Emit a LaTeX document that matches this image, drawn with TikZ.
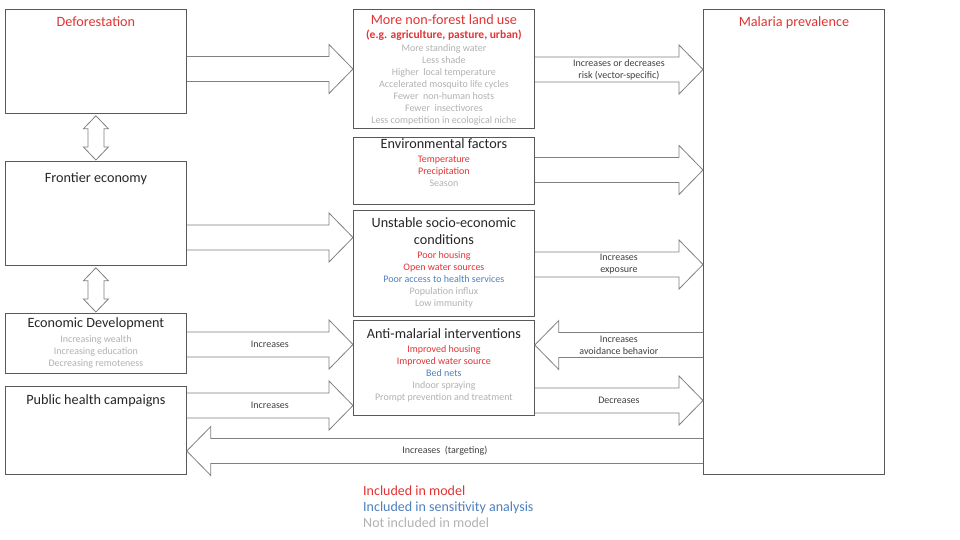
\documentclass[tikz,border=0pt]{standalone}
\usepackage{fontspec}
\setmainfont{Carlito}
\usepackage{tikz}
\usetikzlibrary{positioning, calc}
\definecolor{inred}{RGB}{226,52,52}
\definecolor{inblue}{RGB}{79,129,189}
\definecolor{outgray}{RGB}{178,178,178}
\definecolor{titlegray}{RGB}{38,38,38}
\definecolor{labelgray}{RGB}{64,64,64}
\definecolor{boxline}{RGB}{89,89,89}
\definecolor{arrowline}{RGB}{128,128,128}
\tikzstyle{box} = [rectangle, draw=boxline, line width=0.8pt, inner sep=0pt,
    minimum width=181pt, anchor=north west]
\tikzstyle{boxtext} = [inner sep=0pt, align=center, text=outgray,
    font=\fontsize{10}{12}\selectfont]
\tikzstyle{fatline} = [draw=arrowline, line width=0.8pt, line join=miter]
\tikzstyle{arrowlabel} = [inner sep=0pt, align=center, text=labelgray,
    font=\fontsize{10}{12}\selectfont]
\tikzstyle{legend} = [inner sep=0pt, anchor=base west, font=\fontsize{14}{16}\selectfont]
\newcommand\ttl[1]{{\fontsize{14.2}{16}\selectfont\color{titlegray}#1}}
\newcommand\fatarrow[3][]{%
  \draw[fatline] let \p1=(#2), \p2=(#3), \n1={ifthenelse(\x2>\x1,24,-24)} in
    (\x1,{\y1+12.5pt}) -- ({\x2-\n1},{\y1+12.5pt}) -- ({\x2-\n1},{\y1+24.5pt}) -- (\x2,\y1)
    -- ({\x2-\n1},{\y1-24.5pt}) -- ({\x2-\n1},{\y1-12.5pt}) -- (\x1,{\y1-12.5pt});
  \ifx\relax#1\relax\else
    \path let \p1=(#2), \p2=(#3) in node[arrowlabel] at ({(\x1+\x2)/2},\y1) {#1};
  \fi}
\newcommand\fatboth[2]{%
  \draw[fatline] let \p1=(#1), \p2=(#2) in
    (\x1,\y1) -- ({\x1+12.5pt},{\y1-13pt}) -- ({\x1+8pt},{\y1-13pt}) -- ({\x1+8pt},{\y2+13pt})
    -- ({\x1+12.5pt},{\y2+13pt}) -- (\x1,\y2) -- ({\x1-12.5pt},{\y2+13pt}) -- ({\x1-8pt},{\y2+13pt})
    -- ({\x1-8pt},{\y1-13pt}) -- ({\x1-12.5pt},{\y1-13pt}) -- cycle;}

\begin{document}
\begin{tikzpicture}[x=1pt, y=-1pt]
		\path[use as bounding box, fill=white] (0,0) rectangle (960,539);
		% boxes
		\node [box, minimum height=104pt] (defor) at (5,9) {};
		\node [box, minimum height=104pt] (frontier) at (5,161) {};
		\node [box, minimum height=60pt] (econ) at (5,313) {};
		\node [box, minimum height=88pt] (public) at (5,386) {};
		\node [box, minimum height=119pt] (landuse) at (353,9) {};
		\node [box, minimum height=67pt] (env) at (353,137) {};
		\node [box, minimum height=106pt] (unstable) at (353,210) {};
		\node [box, minimum height=95pt] (anti) at (353,320) {};
		\node [box, minimum height=465pt] (malaria) at (703,9) {};
		
		% box texts
		\node [boxtext, below=7pt of defor.north] (defor-txt) {\ttl{\color{inred}Deforestation}};
		\node [boxtext, below=11pt of frontier.north] (frontier-txt) {\ttl{Frontier economy}};
		\node [boxtext, below=4pt of econ.north] (econ-txt) {\ttl{Economic Development}\\[3pt]
			Increasing wealth\\ Increasing education\\ Decreasing remoteness};
		\node [boxtext, below=8pt of public.north] (public-txt) {\ttl{Public health campaigns}};
		\node [boxtext, below=5pt of landuse.north] (landuse-txt) {\ttl{\color{inred}More non-forest land use}\\[2pt]
			{\fontsize{11.5}{12}\selectfont\bfseries\color{inred}(e.g. agriculture, pasture, urban)}\\[1pt]
			More standing water\\ Less shade\\ Higher~ local temperature\\ Accelerated mosquito life cycles\\
			Fewer~ non-human hosts\\ Fewer~ insectivores\\ Less competition in ecological niche};
		\node [boxtext, below=1pt of env.north] (env-txt) {\ttl{Environmental factors}\\[2pt]
			\textcolor{inred}{Temperature}\\ \textcolor{inred}{Precipitation}\\ Season};
		\node [boxtext, below=7pt of unstable.north] (unstable-txt) {\ttl{Unstable socio-economic}\\[5pt]
			\ttl{conditions}\\[2pt]
			\textcolor{inred}{Poor housing}\\ \textcolor{inred}{Open water sources}\\
			\textcolor{inblue}{Poor access to health services}\\ Population influx\\ Low immunity};
		\node [boxtext, below=8pt of anti.north] (anti-txt) {\ttl{Anti-malarial interventions}\\[2pt]
			\textcolor{inred}{Improved housing}\\ \textcolor{inred}{Improved water source}\\
			\textcolor{inblue}{Bed nets}\\ Indoor spraying\\ Prompt prevention and treatment};
		\node [boxtext, below=7pt of malaria.north] (malaria-txt) {\ttl{\color{inred}Malaria prevalence}};
		
		% block arrows
		\fatboth{$(defor.south)+(0,2)$}{$(frontier.north)+(0,-1)$}
		\fatboth{$(frontier.south)+(0,2)$}{$(econ.north)+(0,-1)$}
		\fatarrow{defor.east |- 0,69}{landuse.west |- 0,69}
		\fatarrow[Increases or decreases\\risk (vector-specific)]{landuse.east |- 0,69.5}{malaria.west |- 0,69.5}
		\fatarrow{env.east |- 0,170}{malaria.west |- 0,170}
		\fatarrow{frontier.east |- 0,237.5}{unstable.west |- 0,237.5}
		\fatarrow[Increases\\exposure]{unstable.east |- 0,264.5}{malaria.west |- 0,264.5}
		\fatarrow[Increases\\avoidance behavior]{malaria.west |- 0,345}{anti.east |- 0,345}
		\fatarrow[Increases]{econ.east |- 0,344.5}{anti.west |- 0,344.5}
		\fatarrow[Decreases]{anti.east |- 0,400.5}{malaria.west |- 0,400.5}
		\fatarrow[Increases]{public.east |- 0,405.5}{anti.west |- 0,405.5}
		\fatarrow[Increases~ (targeting)]{malaria.west |- 0,451}{public.east |- 0,451}
		
		% legend
		\node [legend, text=inred] (leg-in) at (363,495) {Included in model};
		\node [legend, text=inblue] (leg-sens) at (363,511) {Included in sensitivity analysis};
		\node [legend, text=outgray] (leg-out) at (363,527) {Not included in model};
	\end{tikzpicture}
\end{document}
